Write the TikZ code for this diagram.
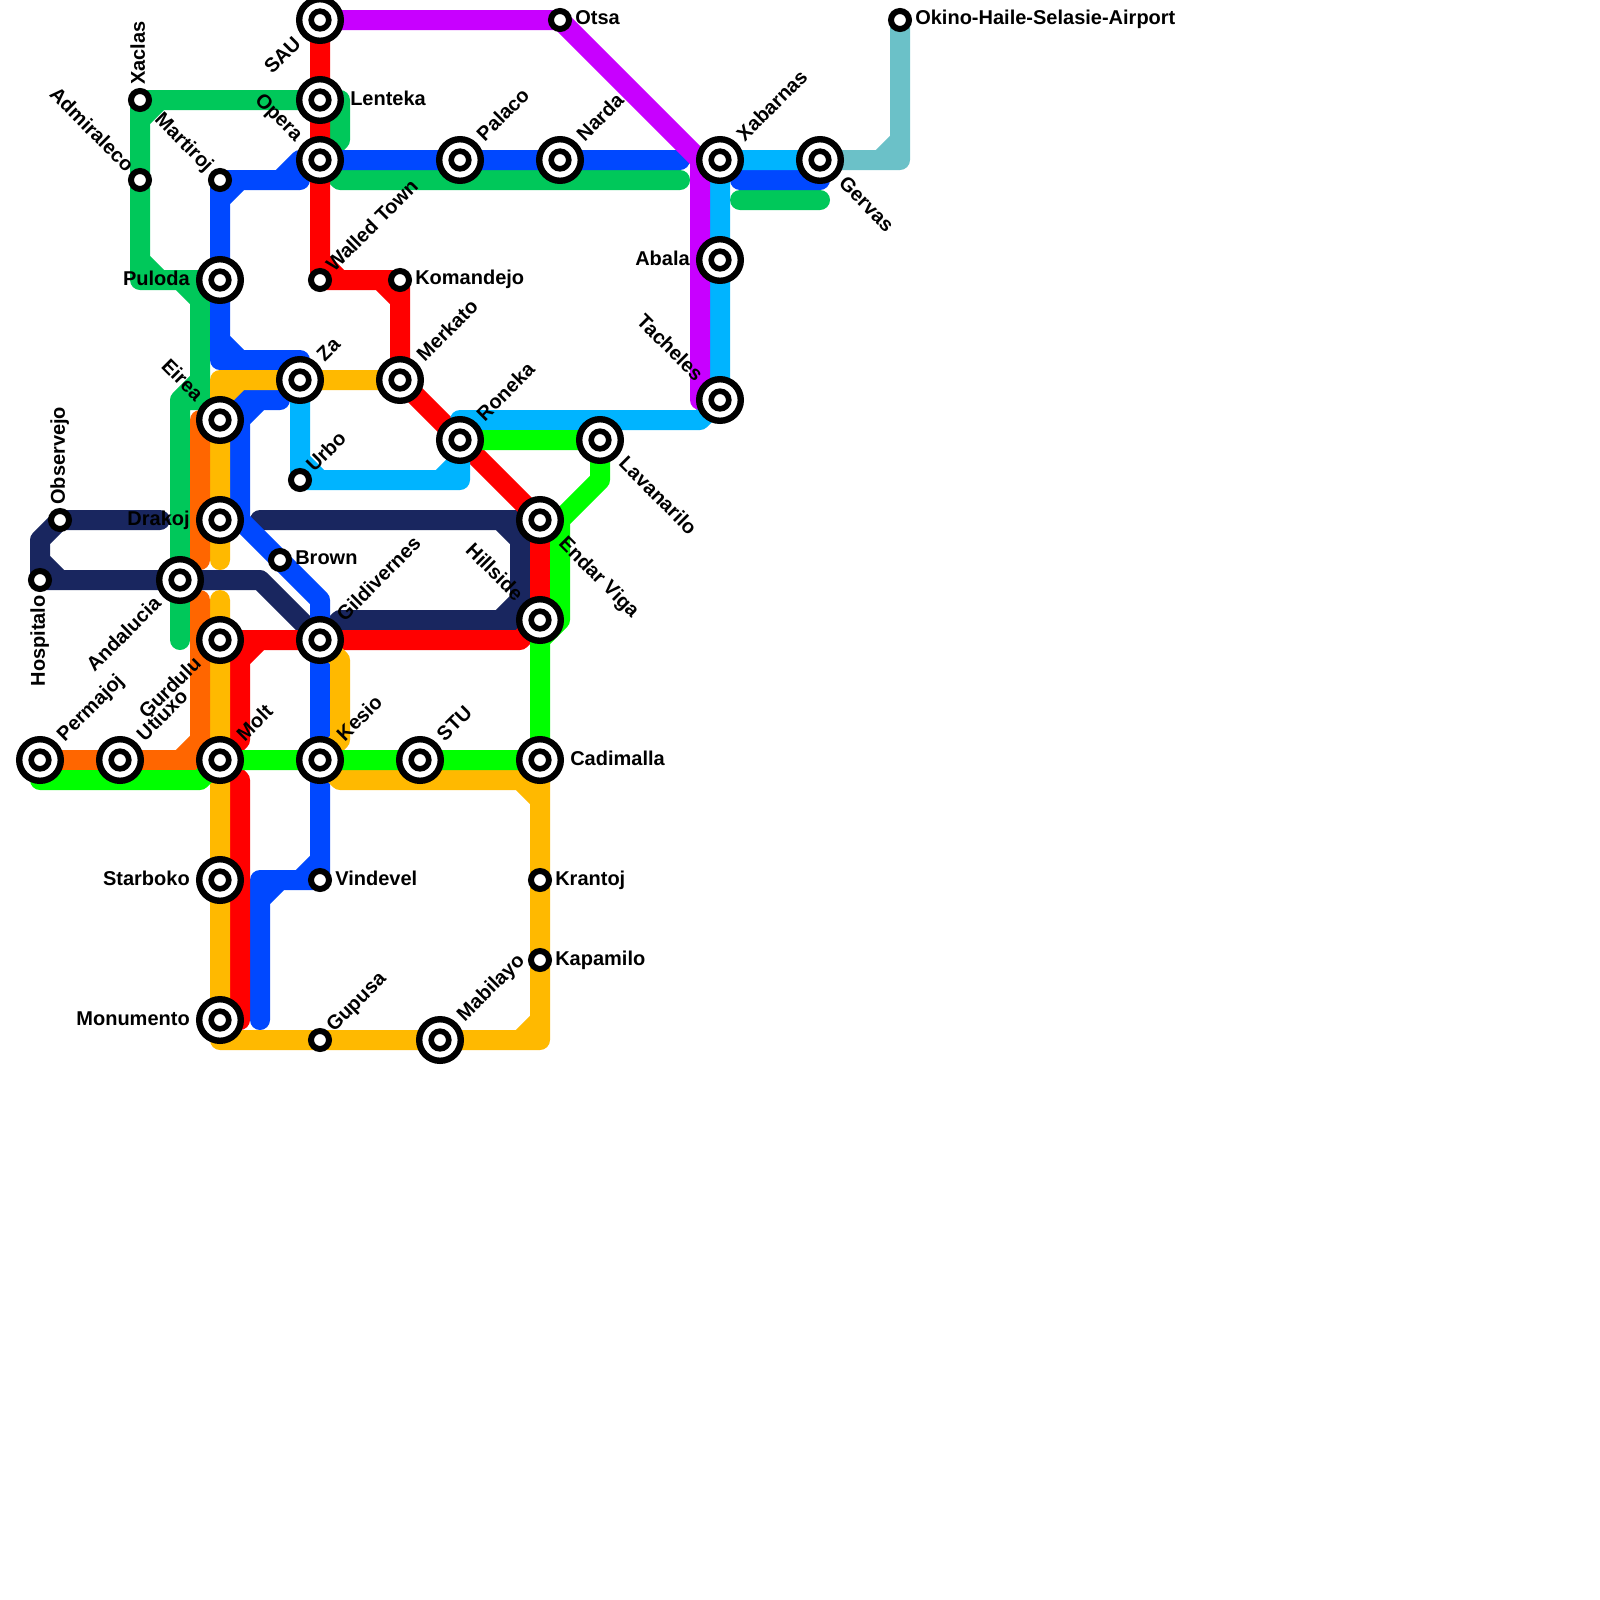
\documentclass[tikz,border=0pt]{standalone}
\usepackage{fontspec}
\setmainfont{Liberation Sans}
\usetikzlibrary{backgrounds}
\definecolor{lineGreen}{HTML}{00C85A}
\definecolor{lineBlue}{HTML}{0048FF}
\definecolor{lineYellow}{HTML}{FFB900}
\definecolor{lineOrange}{HTML}{FF6600}
\definecolor{lineLime}{HTML}{00FF00}
\definecolor{lineNavy}{HTML}{19265F}
\definecolor{lineCyan}{HTML}{00B4FF}
\definecolor{linePurple}{HTML}{C800FF}
\definecolor{lineTeal}{HTML}{6BC1C8}
\tikzstyle{route}=[line width=0.5cm, line cap=round, line join=round]
\tikzstyle{stop}=[circle, draw=black, fill=white, line width=0.15cm, inner sep=0pt, minimum size=0.45cm]
\tikzstyle{hub}=[stop, line width=0.16cm, minimum size=1.04cm, path picture={\draw[line width=0.14cm] (path picture bounding box.center) circle (0.22cm);}]
\tikzstyle{lblR}=[font=\bfseries\fontsize{14.23}{17}\selectfont, inner sep=0pt, anchor=base west]
\tikzstyle{lblL}=[font=\bfseries\fontsize{14.23}{17}\selectfont, inner sep=0pt, anchor=base east]

\begin{document}
\begin{tikzpicture}[x=0.5cm, y=0.5cm]
	\useasboundingbox (0,0) rectangle (80,-80);
	% stations
	\node[hub] (SAU) at (16,-1) {};
	\node[hub] (Lenteka) at (16,-5) {};
	\node[hub] (Opera) at (16,-8) {};
	\node[stop] (Xaclas) at (7,-5) {};
	\node[stop] (Admiraleco) at (7,-9) {};
	\node[stop] (Martiroj) at (11,-9) {};
	\node[hub] (Puloda) at (11,-14) {};
	\node[stop] (WalledTown) at (16,-14) {};
	\node[stop] (Komandejo) at (20,-14) {};
	\node[hub] (Za) at (15,-19) {};
	\node[hub] (Merkato) at (20,-19) {};
	\node[hub] (Eirea) at (11,-21) {};
	\node[hub] (Palaco) at (23,-8) {};
	\node[hub] (Narda) at (28,-8) {};
	\node[stop] (Otsa) at (28,-1) {};
	\node[hub] (Xabarnas) at (36,-8) {};
	\node[hub] (Gervas) at (41,-8) {};
	\node[hub] (Abala) at (36,-13) {};
	\node[hub] (Tacheles) at (36,-20) {};
	\node[stop] (Okino) at (45,-1) {};
	\node[hub] (Roneka) at (23,-22) {};
	\node[hub] (Lavanarilo) at (30,-22) {};
	\node[hub] (EndarViga) at (27,-26) {};
	\node[hub] (Hillside) at (27,-31) {};
	\node[stop] (Urbo) at (15,-24) {};
	\node[hub] (Drakoj) at (11,-26) {};
	\node[stop] (Observejo) at (3,-26) {};
	\node[stop] (Hospitalo) at (2,-29) {};
	\node[hub] (Andalucia) at (9,-29) {};
	\node[stop] (Brown) at (14,-28) {};
	\node[hub] (Gildivernes) at (16,-32) {};
	\node[hub] (Gurdulu) at (11,-32) {};
	\node[hub] (Permajoj) at (2,-38) {};
	\node[hub] (Utiuxo) at (6,-38) {};
	\node[hub] (Molt) at (11,-38) {};
	\node[hub] (Kesio) at (16,-38) {};
	\node[hub] (STU) at (21,-38) {};
	\node[hub] (Cadimalla) at (27,-38) {};
	\node[hub] (Starboko) at (11,-44) {};
	\node[hub] (Monumento) at (11,-51) {};
	\node[stop] (Vindevel) at (16,-44) {};
	\node[stop] (Gupusa) at (16,-52) {};
	\node[hub] (Mabilayo) at (22,-52) {};
	\node[stop] (Krantoj) at (27,-44) {};
	\node[stop] (Kapamilo) at (27,-48) {};
	% labels, right of the station
	\node[lblR] (lblLenteka) at ([shift={(-9.5:1.52)}] Lenteka.center) {Lenteka};
	\node[lblR] (lblCadimalla) at ([shift={(-9.5:1.52)}] Cadimalla.center) {Cadimalla};
	\node[lblR] (lblOtsa) at ([shift={(-18.4:0.79)}] Otsa.center) {Otsa};
	\node[lblR] (lblOkino) at ([shift={(-18.4:0.79)}] Okino.center) {Okino-Haile-Selasie-Airport};
	\node[lblR] (lblKomandejo) at ([shift={(-18.4:0.79)}] Komandejo.center) {Komandejo};
	\node[lblR] (lblBrown) at ([shift={(-18.4:0.79)}] Brown.center) {Brown};
	\node[lblR] (lblVindevel) at ([shift={(-18.4:0.79)}] Vindevel.center) {Vindevel};
	\node[lblR] (lblKrantoj) at ([shift={(-18.4:0.79)}] Krantoj.center) {Krantoj};
	\node[lblR] (lblKapamilo) at ([shift={(-18.4:0.79)}] Kapamilo.center) {Kapamilo};
	\node[lblR, rotate=45] (lblPalaco) at ([shift={(35.5:1.52)}] Palaco.center) {Palaco};
	\node[lblR, rotate=45] (lblNarda) at ([shift={(35.5:1.52)}] Narda.center) {Narda};
	\node[lblR, rotate=45] (lblXabarnas) at ([shift={(35.5:1.52)}] Xabarnas.center) {Xabarnas};
	\node[lblR, rotate=45] (lblZa) at ([shift={(35.5:1.52)}] Za.center) {Za};
	\node[lblR, rotate=45] (lblMerkato) at ([shift={(35.5:1.52)}] Merkato.center) {Merkato};
	\node[lblR, rotate=45] (lblRoneka) at ([shift={(35.5:1.52)}] Roneka.center) {Roneka};
	\node[lblR, rotate=45] (lblGildivernes) at ([shift={(35.5:1.52)}] Gildivernes.center) {Gildivernes};
	\node[lblR, rotate=45] (lblKesio) at ([shift={(35.5:1.52)}] Kesio.center) {Kesio};
	\node[lblR, rotate=45] (lblMolt) at ([shift={(35.5:1.52)}] Molt.center) {Molt};
	\node[lblR, rotate=45] (lblSTU) at ([shift={(35.5:1.52)}] STU.center) {STU};
	\node[lblR, rotate=45] (lblPermajoj) at ([shift={(35.5:1.52)}] Permajoj.center) {Permajoj};
	\node[lblR, rotate=45] (lblUtiuxo) at ([shift={(35.5:1.52)}] Utiuxo.center) {Utiuxo};
	\node[lblR, rotate=45] (lblMabilayo) at ([shift={(35.5:1.52)}] Mabilayo.center) {Mabilayo};
	\node[lblR, rotate=45] (lblWalledTown) at ([shift={(26.6:0.79)}] WalledTown.center) {Walled Town};
	\node[lblR, rotate=45] (lblUrbo) at ([shift={(26.6:0.79)}] Urbo.center) {Urbo};
	\node[lblR, rotate=45] (lblGupusa) at ([shift={(26.6:0.79)}] Gupusa.center) {Gupusa};
	\node[lblR, rotate=90] (lblXaclas) at ([shift={(71.6:0.79)}] Xaclas.center) {Xaclas};
	\node[lblR, rotate=90] (lblObservejo) at ([shift={(71.6:0.79)}] Observejo.center) {Observejo};
	\node[lblR, rotate=-45] (lblGervas) at ([shift={(-54.5:1.52)}] Gervas.center) {Gervas};
	\node[lblR, rotate=-45] (lblLavanarilo) at ([shift={(-54.5:1.52)}] Lavanarilo.center) {Lavanarilo};
	\node[lblR, rotate=-45] (lblEndarViga) at ([shift={(-54.5:1.52)}] EndarViga.center) {Endar Viga};
	% labels, left of the station
	\node[lblL] (lblPuloda) at ([shift={(189.5:1.52)}] Puloda.center) {Puloda};
	\node[lblL] (lblDrakoj) at ([shift={(189.5:1.52)}] Drakoj.center) {Drakoj};
	\node[lblL] (lblStarboko) at ([shift={(189.5:1.52)}] Starboko.center) {Starboko};
	\node[lblL] (lblMonumento) at ([shift={(189.5:1.52)}] Monumento.center) {Monumento};
	\node[lblL] (lblAbala) at ([shift={(189.5:1.52)}] Abala.center) {Abala};
	\node[lblL, rotate=45] (lblSAU) at ([shift={(234.5:1.52)}] SAU.center) {SAU};
	\node[lblL, rotate=45] (lblAndalucia) at ([shift={(234.5:1.52)}] Andalucia.center) {Andalucia};
	\node[lblL, rotate=45] (lblGurdulu) at ([shift={(234.5:1.52)}] Gurdulu.center) {Gurdulu};
	\node[lblL, rotate=90] (lblHospitalo) at ([shift={(288.4:0.79)}] Hospitalo.center) {Hospitalo};
	\node[lblL, rotate=-45] (lblOpera) at ([shift={(144.5:1.52)}] Opera.center) {Opera};
	\node[lblL, rotate=-45] (lblEirea) at ([shift={(144.5:1.52)}] Eirea.center) {Eirea};
	\node[lblL, rotate=-45] (lblTacheles) at ([shift={(144.5:1.52)}] Tacheles.center) {Tacheles};
	\node[lblL, rotate=-45] (lblHillside) at ([shift={(144.5:1.52)}] Hillside.center) {Hillside};
	\node[lblL, rotate=-45] (lblAdmiraleco) at ([shift={(153.4:0.79)}] Admiraleco.center) {Admiraleco};
	\node[lblL, rotate=-45] (lblMartiroj) at ([shift={(153.4:0.79)}] Martiroj.center) {Martiroj};
	% lines go under the stations
	\begin{pgfonlayer}{background}
		\draw[route, lineNavy] (8,-26) -- (Observejo.center) -- (2,-27) -- (Hospitalo.center) -- (Andalucia.center) -- (13,-29) -- (Gildivernes.center) -- (17,-31) -- (26,-31) -- (Hillside.center)
			(13,-26) -- (EndarViga.center) (26,-26) -- (26,-31)
			(2,-28) -- (3,-29) (25,-26) -- (26,-27) (25,-31) -- (26,-30);
		\draw[route, lineGreen] (9,-32) -- (Andalucia.center) -- (9,-20) -- (10,-20) -- (10,-14) -- (Puloda.center) -- (7,-14) -- (Admiraleco.center) -- (Xaclas.center) -- (Lenteka.center) -- (17,-5) -- (17,-7) -- (Opera.center) -- (17,-9) -- (34,-9)
			(37,-10) -- (41,-10)
			(9,-20) -- (10,-19) (9,-14) -- (10,-15) (7,-13) -- (8,-14) (7,-6) -- (8,-5);
		\draw[route, lineBlue] (34,-8) -- (Narda.center) -- (Palaco.center) -- (Opera.center) -- (15,-8) -- (15,-9) -- (Martiroj.center) -- (Puloda.center) -- (11,-18) -- (15,-18) -- (Za.center)
			(14,-20) -- (12,-20) -- (Eirea.center)
			(12,-20) -- (12,-26) -- (16,-30) -- (Gildivernes.center) -- (Kesio.center) -- (Vindevel.center) -- (13,-44) -- (13,-51)
			(37,-9) -- (41,-9)
			(14,-9) -- (15,-8) (11,-10) -- (12,-9) (11,-17) -- (12,-18) (12,-21) -- (13,-20) (16,-43) -- (15,-44) (13,-45) -- (14,-44);
		\draw[route, red] (SAU.center) -- (Lenteka.center) -- (Opera.center) -- (WalledTown.center) -- (Komandejo.center) -- (Merkato.center) -- (Roneka.center) -- (EndarViga.center) -- (Hillside.center) -- (26,-32) -- (Gildivernes.center) -- (Gurdulu.center)
			(12,-32) -- (12,-37) -- (Molt.center) -- (12,-39) -- (12,-51) -- (Monumento.center)
			(16,-13) -- (17,-14) (19,-14) -- (20,-15) (12,-33) -- (13,-32);
		\draw[route, lineCyan] (Gervas.center) -- (Xabarnas.center) -- (Abala.center) -- (Tacheles.center) -- (35,-21) -- (23,-21) -- (Roneka.center) -- (23,-24) -- (Urbo.center) -- (Za.center)
			(22,-24) -- (23,-23) (15,-23) -- (16,-24);
		\draw[route, lineYellow] (Merkato.center) -- (Za.center) -- (11,-19) -- (Eirea.center) -- (Drakoj.center) -- (11,-28)
			(11,-30) -- (Gurdulu.center) -- (Molt.center) -- (Starboko.center) -- (Monumento.center) -- (11,-52) -- (Gupusa.center) -- (Mabilayo.center) -- (27,-52) -- (Kapamilo.center) -- (Krantoj.center) -- (27,-39) -- (17,-39) -- (Kesio.center) -- (17,-37) -- (17,-33) -- (Gildivernes.center)
			(11,-20) -- (12,-19) (26,-52) -- (27,-51) (26,-39) -- (27,-40);
		\draw[route, lineOrange] (Eirea.center) -- (10,-21) -- (10,-28)
			(10,-30) -- (10,-38) -- (Molt.center) -- (Utiuxo.center) -- (Permajoj.center)
			(10,-37) -- (9,-38);
		\draw[route, lineLime] (Roneka.center) -- (Lavanarilo.center) -- (30,-24) -- (28,-26) -- (28,-31) -- (27,-32) -- (Cadimalla.center) -- (STU.center) -- (Kesio.center) -- (Molt.center) -- (10,-39) -- (2,-39) -- (Permajoj.center);
		\draw[route, linePurple] (SAU.center) -- (Otsa.center) -- (35,-8) -- (35,-20) -- (Tacheles.center);
		\draw[route, lineTeal] (Gervas.center) -- (45,-8) -- (Okino.center)
			(44,-8) -- (45,-7);
	\end{pgfonlayer}
\end{tikzpicture}
\end{document}
